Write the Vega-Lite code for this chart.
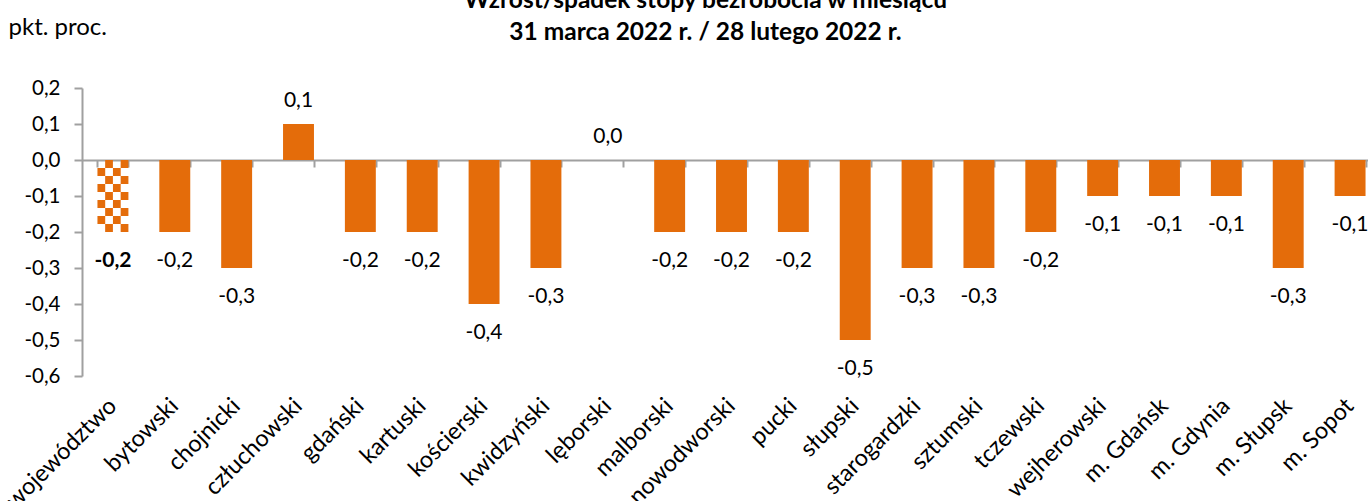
{
  "$schema": "https://vega.github.io/schema/vega-lite/v6.json",
  "autosize": "none",
  "width": 1299,
  "height": 288,
  "padding": {"left": 82, "top": 88, "right": -13, "bottom": 125},
  "background": "white",
  "config": {
    "view": {"stroke": null},
    "font": "Lato",
    "axisX": {"labelAngle": -45},
    "locale": {"number": {"decimal": ",", "thousands": " ", "grouping": [3], "currency": ["", ""], "minus": "-"}}
  },
  "title": {
    "text": ["Wzrost/spadek stopy bezrobocia w miesiącu", "31 marca 2022 r. / 28 lutego 2022 r."],
    "font": "Lato",
    "fontSize": 24.5,
    "fontWeight": "bold",
    "color": "black",
    "lineHeight": 32,
    "anchor": "middle",
    "frame": "group",
    "offset": 0,
    "dy": 30,
    "dx": -26
  },
  "data": {
    "values": [
      {"name": "województwo", "value": -0.2},
      {"name": "bytowski", "value": -0.2},
      {"name": "chojnicki", "value": -0.3},
      {"name": "człuchowski", "value": 0.1},
      {"name": "gdański", "value": -0.2},
      {"name": "kartuski", "value": -0.2},
      {"name": "kościerski", "value": -0.4},
      {"name": "kwidzyński", "value": -0.3},
      {"name": "lęborski", "value": 0.0},
      {"name": "malborski", "value": -0.2},
      {"name": "nowodworski", "value": -0.2},
      {"name": "pucki", "value": -0.2},
      {"name": "słupski", "value": -0.5},
      {"name": "starogardzki", "value": -0.3},
      {"name": "sztumski", "value": -0.3},
      {"name": "tczewski", "value": -0.2},
      {"name": "wejherowski", "value": -0.1},
      {"name": "m. Gdańsk", "value": -0.1},
      {"name": "m. Gdynia", "value": -0.1},
      {"name": "m. Słupsk", "value": -0.3},
      {"name": "m. Sopot", "value": -0.1}
    ]
  },
  "resolve": {"scale": {"x": "shared", "y": "shared"}, "axis": {"x": "independent", "y": "independent"}},
  "layer": [
    {
      "mark": {"type": "bar", "color": "#E46C0A"},
      "encoding": {
        "x": {
          "field": "name", "type": "nominal", "sort": null,
          "scale": {"paddingInner": 0.5, "paddingOuter": 0.25},
          "axis": {
            "orient": "bottom", "title": null, "domain": false, "ticks": false,
            "labelAngle": -45, "labelAlign": "right", "labelBaseline": "middle",
            "labelFont": "Lato", "labelFontSize": 23.5, "labelColor": "black", "labelPadding": 26,
            "labelOverlap": false
          }
        },
        "y": {
          "field": "value", "type": "quantitative",
          "scale": {"domain": [-0.6, 0.2], "nice": false, "zero": false},
          "axis": {
            "orient": "left",
            "values": [-0.6, -0.5, -0.4, -0.3, -0.2, -0.1, 0, 0.1, 0.2],
            "labelOverlap": false,
            "format": ".1f", "grid": false,
            "domainColor": "#A0A0A0", "domainWidth": 2,
            "tickColor": "#A0A0A0", "tickWidth": 2, "tickSize": 8,
            "labelFont": "Lato", "labelFontSize": 20.5, "labelColor": "black", "labelPadding": 14,
            "title": "pkt. proc.", "titleAngle": 0, "titleFont": "Lato", "titleFontSize": 24,
            "titleFontWeight": "normal", "titleColor": "black",
            "titleAlign": "left", "titleBaseline": "middle", "titleX": -74, "titleY": -61
          }
        },
        "opacity": {"condition": {"test": "datum.name === 'województwo'", "value": 0}, "value": 1}
      }
    },
    {
      "transform": [{"filter": "datum.value >= 0"}],
      "mark": {"type": "text", "font": "Lato", "fontSize": 21, "color": "black", "baseline": "middle", "yOffset": -23},
      "encoding": {
        "x": {
          "field": "name", "type": "nominal", "sort": null,
          "axis": {
            "orient": "bottom", "offset": -216, "labels": false, "title": null,
            "domain": true, "domainColor": "#A0A0A0", "domainWidth": 2,
            "ticks": true, "tickBand": "extent", "tickColor": "#A0A0A0", "tickWidth": 2, "tickSize": 7
          }
        },
        "y": {"field": "value", "type": "quantitative", "axis": null},
        "text": {"field": "value", "type": "quantitative", "format": ".1f"}
      }
    },
    {
      "transform": [{"filter": "datum.value < 0 && datum.name !== 'województwo'"}],
      "mark": {"type": "text", "font": "Lato", "fontSize": 21, "color": "black", "baseline": "middle", "yOffset": 29},
      "encoding": {
        "x": {"field": "name", "type": "nominal", "sort": null, "axis": null},
        "y": {"field": "value", "type": "quantitative", "axis": null},
        "text": {"field": "value", "type": "quantitative", "format": ".1f"}
      }
    },
    {
      "transform": [{"filter": "datum.name === 'województwo'"}],
      "mark": {"type": "text", "font": "Lato", "fontSize": 21, "fontWeight": "bold", "color": "black", "baseline": "middle", "yOffset": 29},
      "encoding": {
        "x": {"field": "name", "type": "nominal", "sort": null, "axis": null},
        "y": {"field": "value", "type": "quantitative", "axis": null},
        "text": {"field": "value", "type": "quantitative", "format": ".1f"}
      }
    },
    {
      "transform": [{"filter": "datum.name === 'województwo'"}],
      "mark": {"type": "rule", "color": "#E46C0A", "strokeWidth": 7.75, "strokeDash": [8, 8], "strokeDashOffset": 8, "strokeCap": "butt", "xOffset": -11.6},
      "encoding": {
        "x": {"field": "name", "type": "nominal", "sort": null, "axis": null},
        "y": {"field": "value", "type": "quantitative", "axis": null},
        "y2": {"datum": 0}
      }
    },
    {
      "transform": [{"filter": "datum.name === 'województwo'"}],
      "mark": {"type": "rule", "color": "#E46C0A", "strokeWidth": 7.75, "strokeDash": [8, 8], "strokeDashOffset": 0, "strokeCap": "butt", "xOffset": -3.9},
      "encoding": {
        "x": {"field": "name", "type": "nominal", "sort": null, "axis": null},
        "y": {"field": "value", "type": "quantitative", "axis": null},
        "y2": {"datum": 0}
      }
    },
    {
      "transform": [{"filter": "datum.name === 'województwo'"}],
      "mark": {"type": "rule", "color": "#E46C0A", "strokeWidth": 7.75, "strokeDash": [8, 8], "strokeDashOffset": 8, "strokeCap": "butt", "xOffset": 3.9},
      "encoding": {
        "x": {"field": "name", "type": "nominal", "sort": null, "axis": null},
        "y": {"field": "value", "type": "quantitative", "axis": null},
        "y2": {"datum": 0}
      }
    },
    {
      "transform": [{"filter": "datum.name === 'województwo'"}],
      "mark": {"type": "rule", "color": "#E46C0A", "strokeWidth": 7.75, "strokeDash": [8, 8], "strokeDashOffset": 0, "strokeCap": "butt", "xOffset": 11.6},
      "encoding": {
        "x": {"field": "name", "type": "nominal", "sort": null, "axis": null},
        "y": {"field": "value", "type": "quantitative", "axis": null},
        "y2": {"datum": 0}
      }
    }
  ]
}
